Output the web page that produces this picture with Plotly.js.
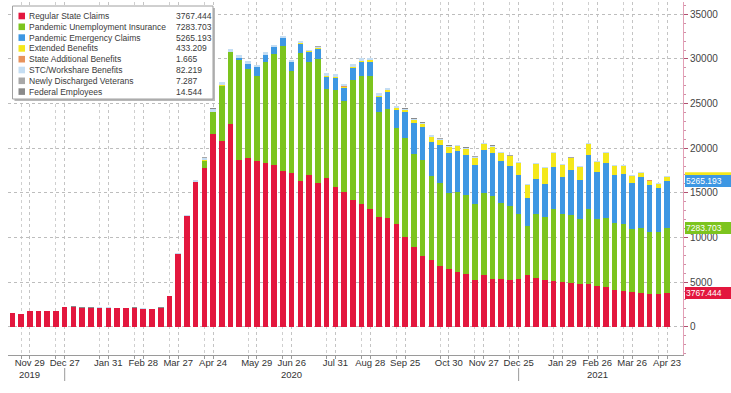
<!DOCTYPE html>
<html>
<head>
<meta charset="utf-8">
<script src="https://cdn.plot.ly/plotly-3.0.1.min.js"></script>
<style>
html,body{margin:0;padding:0;background:#fff;}
#chart{width:731px;height:393px;}
</style>
</head>
<body>
<div id="chart"></div>
<script>
// ---- data (thousands of continuing claims, weekly) ----
const weeks = [
"2019-11-15","2019-11-22","2019-11-29","2019-12-06","2019-12-13","2019-12-20","2019-12-27",
"2020-01-03","2020-01-10","2020-01-17","2020-01-24","2020-01-31",
"2020-02-07","2020-02-14","2020-02-21","2020-02-28",
"2020-03-06","2020-03-13","2020-03-20","2020-03-27",
"2020-04-03","2020-04-10","2020-04-17","2020-04-24",
"2020-05-01","2020-05-08","2020-05-15","2020-05-22","2020-05-29",
"2020-06-05","2020-06-12","2020-06-19","2020-06-26",
"2020-07-03","2020-07-10","2020-07-17","2020-07-24","2020-07-31",
"2020-08-07","2020-08-14","2020-08-21","2020-08-28",
"2020-09-04","2020-09-11","2020-09-18","2020-09-25",
"2020-10-02","2020-10-09","2020-10-16","2020-10-23","2020-10-30",
"2020-11-06","2020-11-13","2020-11-20","2020-11-27",
"2020-12-04","2020-12-11","2020-12-18","2020-12-25",
"2021-01-01","2021-01-08","2021-01-15","2021-01-22","2021-01-29",
"2021-02-05","2021-02-12","2021-02-19","2021-02-26",
"2021-03-05","2021-03-12","2021-03-19","2021-03-26",
"2021-04-02","2021-04-09","2021-04-16","2021-04-23"];

const regularState = [1490,1410,1740,1740,1740,1740,2190,2220,2100,2100,
 2140,2140,2060,2060,2100,2030,1980,2100,3410,8150,
 12400,16200,17780,21600,20850,22700,18710,18850,18600,18340,
 18150,17410,17220,16370,17030,16110,16670,15630,15110,14150,
 13780,13150,12300,12220,11480,10070,8890,7960,7480,6850,
 6480,6110,5930,5190,5740,5370,5370,5260,5370,5740,
 5480,5190,5110,5000,4890,4820,4740,4520,4440,4150,
 4000,3890,3820,3710,3710,3767.444];

const pandemicUnemployment = [0,0,0,0,0,0,0,0,0,0,
 0,0,0,0,0,0,0,0,0,0,
 0,0,840,2420,6170,8060,11190,10070,9540,11290,
 12440,14070,11480,14330,12600,13890,9930,10850,10190,13440,
 14290,14920,11770,12220,10740,11040,10440,10750,9370,9260,
 8520,9000,8880,8510,9220,9260,8520,8260,7220,5560,
 7190,7110,8040,7590,7630,7220,8410,7520,7710,7520,
 7560,7040,7290,6850,6850,7283.703];

const pandemicEmergency = [0,0,0,0,0,0,0,0,0,0,
 0,0,0,0,0,0,0,0,0,0,
 0,0,0,0,0,0,200,510,930,820,
 710,820,930,970,1110,1110,1360,1370,1440,1370,
 1560,1560,1670,1860,2040,2890,3450,3700,3890,4260,
 4440,4520,4450,4450,4820,4810,4710,4450,4380,3140,
 3930,3700,4710,4150,5080,4450,6040,5290,6190,5300,
 5550,5180,5630,5370,5000,5265.193];

const extendedBenefits = [1.6,1.5,1.8,1.9,2.0,2.1,2.4,2.6,2.5,2.4,
 2.3,2.2,2.2,2.1,2.0,1.9,1.8,1.9,2.6,4.1,
 6,9,12,14,16,18,21,24,27,31,
 36,45,60,80,95,110,130,150,170,180,
 190,200,150,200,250,250,350,300,550,550,
 700,600,680,800,650,730,840,1100,1350,1450,
 1620,1740,1580,1370,1250,1360,1250,1150,1100,1000,
 860,740,480,450,440,433.209];

const stateAdditional = [0.5,0.5,0.5,0.5,0.5,0.5,0.6,0.6,0.6,0.6,
 0.6,0.6,0.6,0.6,0.6,0.6,0.6,0.6,0.8,1.2,
 2,3,3,4,4,4,4,4,4,4,
 4,4,4,4,4,4,4,4,4,4,
 3,3,3,3,3,3,3,3,3,3,
 3,3,3,3,3,3,3,3,3,3,
 2,2,2,2,2,2,2,2,2,2,
 2,2,2,2,2,1.665];

const stcWorkshare = [24,25,26,27,27,28,30,31,31,32,
 32,33,33,34,34,33,32,33,45,70,
 130,220,320,380,360,340,310,290,200,250,
 230,240,180,210,170,160,300,260,290,300,
 280,240,250,220,200,170,170,150,160,160,
 140,130,120,110,110,110,100,100,100,90,
 100,100,100,100,100,100,100,100,100,90,
 90,90,90,85,85,82.219];

const newlyDischargedVeterans = [6,6,6,6,6,6,7,7,7,7,
 7,7,7,7,7,7,7,7,8,9,
 10,11,11,12,12,12,12,12,11,11,
 11,11,11,11,11,11,11,11,10,10,
 10,10,10,10,10,10,10,10,10,10,
 10,10,10,9,9,9,9,9,9,9,
 9,9,9,9,9,8,8,8,8,8,
 8,8,8,7,7,7.287];

const federalEmployees = [14,14,14,15,15,15,16,16,15,15,
 15,15,14,14,14,14,14,15,16,18,
 20,22,23,24,24,23,22,21,21,20,
 20,19,19,19,18,18,18,18,17,17,
 17,17,16,16,17,17,16,16,16,16,
 16,16,16,15,16,16,16,16,16,15,
 16,16,16,16,15,15,15,15,15,15,
 15,15,15,15,15,14.544];

const seriesNames = ["Regular State Claims","Pandemic Unemployment Insurance","Pandemic Emergency Claims",
 "Extended Benefits","State Additional Benefits","STC/Workshare Benefits","Newly Discharged Veterans","Federal Employees"];
const seriesColors = ["#e3173e","#7cc41e","#3d97e3","#f4e81c","#e8935c","#c5def3","#a8a8a8","#8a8a8a"];
const seriesData = [regularState,pandemicUnemployment,pandemicEmergency,extendedBenefits,
 stateAdditional,stcWorkshare,newlyDischargedVeterans,federalEmployees];

const tickDates = ["2019-11-29","2019-12-27","2020-01-31","2020-02-28","2020-03-27","2020-04-24",
 "2020-05-29","2020-06-26","2020-07-31","2020-08-28","2020-09-25","2020-10-30","2020-11-27",
 "2020-12-25","2021-01-29","2021-02-26","2021-03-26","2021-04-23"];
const tickLabels = ["Nov 29","Dec 27","Jan 31","Feb 28","Mar 27","Apr 24","May 29",
 "Jun 26","Jul 31","Aug 28","Sep 25","Oct 30","Nov 27","Dec 25","Jan 29",
 "Feb 26","Mar 26","Apr 23"];
const yearLabels = ["2019","2020","2021"];
const yearLabelDates = ["2019-11-29","2020-06-26","2021-02-26"];
const yearSeparators = ["2019-12-27","2020-12-25"];
const yTicks = [0,5000,10000,15000,20000,25000,30000,35000];

// ---- geometry helpers (plot area in pixels) ----
const PL=8, PR=683, PT=2, PB=355;
const px = x => (x-PL)/(PR-PL);
const py = y => 1-(y-PT)/(PB-PT);

const FONT = "Liberation Sans, Arial, sans-serif";

// secondary gridlines one week before each labelled tick
const weekBefore = tickDates.map(d=>{
  const t = new Date(d+"T00:00:00Z"); t.setUTCDate(t.getUTCDate()-7);
  return t.toISOString().slice(0,10);
});

const traces = seriesData.map((vals,k)=>({
  type:"bar", x:weeks, y:vals, name:seriesNames[k],
  marker:{color:seriesColors[k], line:{width:0}},
  showlegend:false, hoverinfo:"skip"
}));

// legend built from shapes + annotations
const shapes = [];
const annotations = [];
shapes.push({type:"rect",xref:"paper",yref:"paper",x0:px(14.5),x1:px(215),y0:py(8),y1:py(101),
  fillcolor:"#b8b8b8",line:{width:0},layer:"above"});
shapes.push({type:"rect",xref:"paper",yref:"paper",x0:px(12.5),x1:px(213),y0:py(6),y1:py(99),
  fillcolor:"#ffffff",line:{color:"#a0a0a0",width:1},layer:"above"});
seriesNames.forEach((nm,k)=>{
  const yc = 16 + 10.8*k;
  shapes.push({type:"rect",xref:"paper",yref:"paper",x0:px(18.5),x1:px(25),y0:py(yc-3.3),y1:py(yc+3.3),
    fillcolor:seriesColors[k],line:{width:0},layer:"above"});
  annotations.push({xref:"paper",yref:"paper",x:px(27.5),y:py(yc),xanchor:"left",yanchor:"middle",
    text:nm,showarrow:false,font:{family:FONT,size:8.5,color:"#3a3a3a"},borderpad:0});
  const v = seriesData[k][seriesData[k].length-1];
  annotations.push({xref:"paper",yref:"paper",x:px(174.5),y:py(yc),xanchor:"left",yanchor:"middle",
    text:v.toFixed(3),showarrow:false,font:{family:FONT,size:8.5,color:"#3a3a3a"},borderpad:0});
});

// right-side last value tags
const last = i => seriesData[i][seriesData[i].length-1];
const cum = [];
let acc = 0;
for (let k=0;k<4;k++){ acc += last(k); cum.push(acc); }
// yellow tag is hidden behind the blue one except for a thin strip
shapes.push({type:"rect",xref:"paper",yref:"y",x0:px(685),x1:px(731),
  ysizemode:"pixel",yanchor:cum[3],y0:-5,y1:5,fillcolor:seriesColors[3],line:{width:0},layer:"above"});
[2,1,0].forEach(k=>{
  annotations.push({xref:"paper",yref:"y",x:1,xshift:2,y:cum[k],xanchor:"left",yanchor:"middle",
    text:last(k).toFixed(3),showarrow:false,bgcolor:seriesColors[k],bordercolor:seriesColors[k],
    borderpad:0,width:46,align:"left",font:{family:FONT,size:8.5,color:"#ffffff"}});
});

// year labels + separators under axis
yearLabels.forEach((t,k)=>{
  annotations.push({xref:"x",yref:"paper",x:yearLabelDates[k],y:py(375),xanchor:"center",yanchor:"middle",
    text:t,showarrow:false,font:{family:FONT,size:9.5,color:"#333"},borderpad:0});
});
yearSeparators.forEach(d=>{
  shapes.push({type:"line",xref:"x",yref:"paper",x0:d,x1:d,y0:py(368),y1:py(381),
    line:{color:"#9a9a9a",width:1}});
});

const layout = {
  width:731, height:393,
  margin:{l:PL,r:731-PR,t:PT,b:393-PB,pad:0},
  paper_bgcolor:"#ffffff", plot_bgcolor:"#ffffff",
  barmode:"stack", bargap:0.36,
  font:{family:FONT,size:10,color:"#333"},
  xaxis:{
    type:"date", range:["2019-11-11 13:00","2021-05-05 19:00"],
    tickmode:"array", tickvals:tickDates, ticktext:tickLabels,
    ticks:"outside", ticklen:3, tickcolor:"#999",
    showline:true, linecolor:"#9a9a9a", linewidth:1,
    showgrid:true, gridcolor:"#c4c4c4", griddash:"dot", gridwidth:1,
    minor:{tickmode:"array", tickvals:weekBefore, showgrid:true, gridcolor:"#cfcfcf", griddash:"dot",
      ticks:"outside", ticklen:3, tickcolor:"#999"},
    tickfont:{family:FONT,size:9.5,color:"#333"},
    ticklabelstandoff:-4,
    zeroline:false, fixedrange:true
  },
  yaxis:{
    side:"right", range:[-3170,36378],
    tickmode:"array", tickvals:yTicks, ticktext:yTicks.map(v=>String(v)),
    ticks:"outside", ticklen:4, tickcolor:"#b05070",
    showline:true, linecolor:"#e3a0b6", linewidth:1,
    showgrid:true, gridcolor:"#bdbdbd", griddash:"dot", gridwidth:1,
    minor:{dtick:1000, ticks:"outside", ticklen:2, tickcolor:"#d090a8", showgrid:false},
    tickfont:{family:FONT,size:10,color:"#444"},
    zeroline:false, fixedrange:true
  },
  shapes:shapes,
  annotations:annotations,
  showlegend:false
};

Plotly.newPlot("chart", traces, layout, {displayModeBar:false, staticPlot:true});
</script>
</body>
</html>
